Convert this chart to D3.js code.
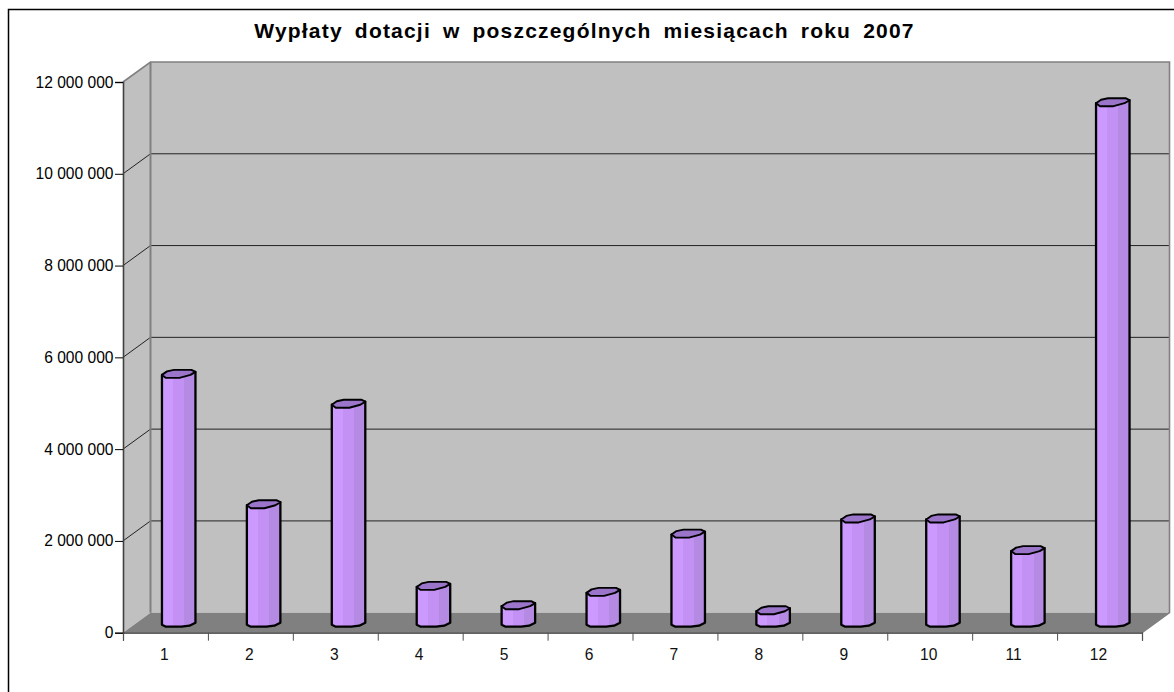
<!DOCTYPE html>
<html><head><meta charset="utf-8">
<script src="https://cdn.jsdelivr.net/npm/d3@7"></script>
<style>html,body{margin:0;padding:0;background:#fff}svg{display:block}text{font-family:"Liberation Sans",Arial,sans-serif;fill:#000}</style>
</head><body><svg id="c" width="1174" height="692"></svg>
<script>
const titleText = "Wypłaty dotacji w poszczególnych miesiącach roku 2007";
const months = ["1","2","3","4","5","6","7","8","9","10","11","12"];
const payouts = [5400000,2560000,4750000,780000,360000,650000,1920000,250000,2250000,2250000,1560000,11320000];
const yTicks = [0,2000000,4000000,6000000,8000000,10000000,12000000];

const svg = d3.select("#c");
const dx = 27.5, dy = -20;
const xL = 123, xR = 1142, y0 = 632.7, yT = 82;
const x = d3.scaleBand().domain(months).range([xL,xR]);
const xEdge = d3.scaleLinear().domain([0,12]).range([xL,xR]);
const y = d3.scaleLinear().domain([0,12000000]).range([y0,yT]);
const fmt = d3.formatLocale({decimal:",",thousands:" ",grouping:[3],currency:["",""]}).format(",d");
const poly = (pts,attrs,parent=svg)=>{const p=parent.append("polygon").attr("points",pts.map(d=>d.join(",")).join(" "));
  Object.entries(attrs).forEach(([k,v])=>p.attr(k,v));return p;};

// frame
svg.append("path").attr("d","M8.5,692V9.5H1174").attr("fill","none").attr("stroke","#000").attr("stroke-width",1.5);

// walls
poly([[xL+dx,yT+dy],[xR+dx,yT+dy],[xR+dx,y0+dy],[xL+dx,y0+dy]],{fill:"#c0c0c0"});
poly([[xL,yT],[xL+dx,yT+dy],[xL+dx,y0+dy],[xL,y0]],{fill:"#c0c0c0"});
poly([[xL,y0],[xL+dx,y0+dy],[xR+dx,y0+dy],[xR,y0]],{fill:"#808080"});

// gridlines
yTicks.slice(1,-1).forEach(t=>{
  svg.append("path").attr("d",`M${xL},${y(t)}L${xL+dx},${y(t)+dy}H${xR+dx}`).attr("fill","none").attr("stroke","#222").attr("stroke-width",1);
});
// wall edges
svg.append("path").attr("d",`M${xL},${yT}L${xL+dx},${yT+dy}H${xR+dx}V${y0+dy}L${xR},${y0}`).attr("fill","none").attr("stroke","#808080").attr("stroke-width",1.6);
svg.append("line").attr("x1",xL+dx).attr("x2",xL+dx).attr("y1",yT+dy).attr("y2",y0+dy).attr("stroke","#808080").attr("stroke-width",2);

// axes
const gy = svg.append("g").attr("transform",`translate(${xL},0)`)
  .call(d3.axisLeft(y).tickValues(yTicks).tickFormat(fmt).tickSize(8).tickPadding(1.5));
gy.select(".domain").attr("stroke","#404040").attr("stroke-width",1.6);
gy.selectAll("text").attr("font-size",15.6).attr("fill","#111");
const gx = svg.append("g").attr("transform",`translate(0,${y0})`)
  .call(d3.axisBottom(xEdge).tickValues(d3.range(13)).tickFormat("").tickSize(8));
gx.select(".domain").attr("stroke","#303030").attr("stroke-width",1.2);
gx.selectAll("line").attr("stroke","#505050");
svg.append("g").selectAll("text").data(months).join("text")
  .attr("x",d=>x(d)+x.bandwidth()/2-1).attr("y",660).attr("text-anchor","middle").attr("font-size",15.6).style("fill","#111").text(d=>d);

// bars
const defs = svg.append("defs");
const grad = defs.append("linearGradient").attr("id","facet");
[[0,"#cc99ff"],[.33,"#cc99ff"],[.33,"#c291f3"],[.67,"#c291f3"],[.67,"#b48ae2"],[1,"#b48ae2"]]
  .forEach(([o,c])=>grad.append("stop").attr("offset",o).attr("stop-color",c));
const w = 33.5, cOff = dx/2, vOff = dy/2;
const bars = svg.append("g").selectAll("g").data(months.map((m,i)=>({m,v:payouts[i]}))).join("g");
bars.each(function(d){
  const g = d3.select(this);
  const L = x(d.m)+x.bandwidth()/2+cOff-w/2-0.5, R = L+w;
  const base = y(0)+vOff, top = y(d.v)+vOff;
  g.append("path").attr("d",`M${L},${top}L${R},${top-3}L${R},${base}L${R-6},${base+3}L${R-14},${base+4}L${L+4},${base+4}L${L},${base+2}Z`)
   .attr("fill","url(#facet)").attr("stroke","#000").attr("stroke-width",2.3).attr("stroke-linejoin","round");
  g.append("path").attr("d",`M${L},${top}L${L+5},${top-3.5}L${L+12},${top-5}L${R-4},${top-5}L${R},${top-3}L${R-5},${top}L${R-16},${top+3}L${L+4},${top+3}Z`)
   .attr("fill","#9a75c9").attr("stroke","#000").attr("stroke-width",1.9).attr("stroke-linejoin","round");
});

// title
svg.append("text").attr("x",584.5).attr("y",38).attr("text-anchor","middle").attr("font-size",21).attr("font-weight","bold")
  .attr("letter-spacing",1.2).attr("word-spacing",5).text(titleText);
</script></body></html>
